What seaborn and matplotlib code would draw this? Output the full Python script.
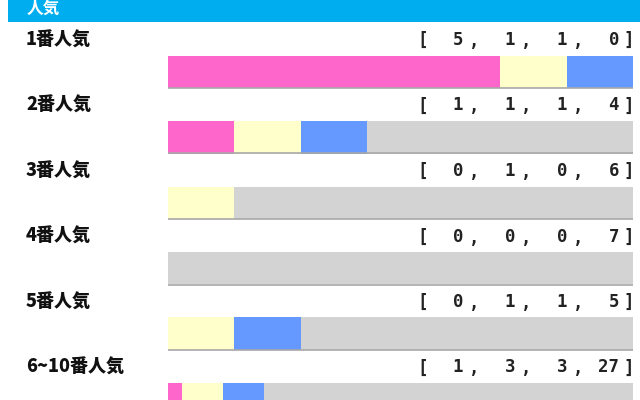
import pandas as pd
import matplotlib
matplotlib.use("Agg")
import matplotlib.pyplot as plt
import seaborn as sns

# data
labels = ["1番人気", "2番人気", "3番人気", "4番人気", "5番人気", "6~10番人気"]
wins = [5, 1, 0, 0, 0, 1]
seconds = [1, 1, 1, 0, 1, 3]
thirds = [1, 1, 0, 0, 1, 3]
others = [0, 4, 6, 7, 5, 27]

colors = {"1着": "#ff66cc", "2着": "#ffffcc", "3着": "#6699ff", "着外": "#d3d3d3"}

sns.set_theme(style="white")
plt.rcParams["font.family"] = ["Noto Sans CJK JP", "DejaVu Sans"]

df = pd.DataFrame({"label": labels, "1着": wins, "2着": seconds,
                   "3着": thirds, "着外": others})
total = df[["1着", "2着", "3着", "着外"]].sum(axis=1)
df["c1"] = df["1着"] / total
df["c2"] = (df["1着"] + df["2着"]) / total
df["c3"] = (df["1着"] + df["2着"] + df["3着"]) / total
df["c4"] = 1.0

W, H = 640, 400
fig = plt.figure(figsize=(6.4, 4.0), dpi=100)

# overlay in pixel coordinates for header and texts
bg = fig.add_axes([0, 0, 1, 1])
bg.set_xlim(0, W)
bg.set_ylim(H, 0)
bg.axis("off")
bg.add_patch(plt.Rectangle((8, -5), W - 8, 26.5, color="#00aeef", lw=0))
bg.text(27, 9, "人気", color="white", fontsize=12, fontweight="bold",
        va="center", ha="left")

row_h = 65.5
bar_top0 = 55.5
bar_h = 32.5

# bar axes: x is fraction, y is row index
x0, x1 = 168, 633
ax = fig.add_axes([x0 / W, 0, (x1 - x0) / W, 1])
for col, key in [("c4", "着外"), ("c3", "3着"), ("c2", "2着"), ("c1", "1着")]:
    sns.barplot(data=df, x=col, y="label", orient="h", color=colors[key],
                width=bar_h / row_h, saturation=1, linewidth=0, ax=ax)
ax.set_xlim(0, 1)
c0 = bar_top0 + bar_h / 2
ax.set_ylim((H - c0) / row_h, -c0 / row_h)
ax.axis("off")
ax.set_zorder(2)
bg.set_zorder(1)
ax.patch.set_alpha(0)

for i, lab in enumerate(labels):
    bottom = i + bar_h / row_h / 2
    ax.plot([0, 1], [bottom, bottom], color="#a8a8a8", lw=1.2)
    ty = 40 + row_h * i
    bg.text(26, ty, lab, fontsize=13, fontweight="heavy", color="#111111",
            va="center", ha="left")
    nums = [wins[i], seconds[i], thirds[i], others[i]]
    mono = dict(fontsize=12.5, fontweight="bold", color="#222222",
                family="DejaVu Sans Mono", va="center")
    bg.text(423, ty, "[", ha="center", **mono)
    for xn, n in zip([458, 510, 562], nums[:3]):
        bg.text(xn, ty, str(n), ha="center", **mono)
    for xc in [474, 526, 578]:
        bg.text(xc, ty + 2, ",", ha="center", **mono)
    bg.text(619, ty, str(nums[3]), ha="right", **mono)
    bg.text(629, ty, "]", ha="center", **mono)

fig.savefig("out.png", dpi=100)
